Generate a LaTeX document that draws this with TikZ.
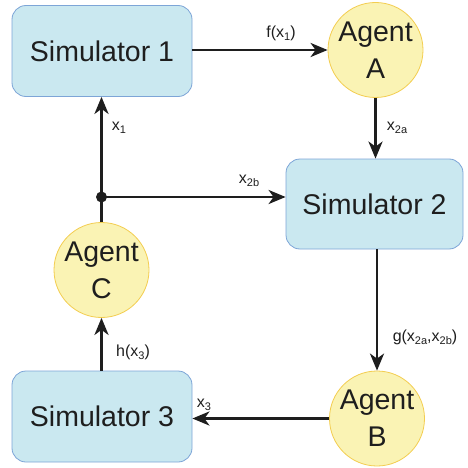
\documentclass[tikz,border=0pt]{standalone}
\usepackage{fontspec}
\setmainfont{Liberation Sans}
\usetikzlibrary{arrows.meta}
\definecolor{boxfill}{RGB}{202,232,240}
\definecolor{boxline}{RGB}{125,165,215}
\definecolor{agfill}{RGB}{250,243,180}
\definecolor{agline}{RGB}{243,205,80}
\definecolor{ink}{RGB}{30,30,30}
\newcommand\mysub[1]{\raisebox{-0.35ex}{\fontsize{11}{11}\selectfont #1}}
\tikzset{
  simbox/.style={draw=boxline, fill=boxfill, line width=0.8pt, rounded corners=14pt,
    minimum width=180pt, minimum height=91pt, inner sep=0pt,
    font=\fontsize{28.5}{34}\selectfont, text=ink},
  agent/.style={draw=agline, fill=agfill, line width=0.8pt, circle, minimum size=95pt, inner sep=0pt,
    align=center, font=\fontsize{28.5}{37}\selectfont, text=ink},
  flow/.style={draw=ink, line width=2.8pt, -{Stealth[length=17pt,width=14pt,inset=5pt]}},
  lbl/.style={font=\fontsize{16}{18}\selectfont, text=ink, inner sep=0pt},
}
\begin{document}
\begin{tikzpicture}[x=1pt,y=-1pt]
\useasboundingbox (0,0) rectangle (468,468);
\node[simbox] (sim1) at (102,51) {Simulator 1};
\node[simbox, minimum width=177pt, minimum height=90pt] (sim2) at (374.5,204) {Simulator 2};
\node[simbox] (sim3) at (102,416.5) {Simulator 3};
\node[agent] (agA) at (375.5,50) {Agent\\A};
\node[agent] (agC) at (101.5,270) {Agent\\C};
\node[agent] (agB) at (377,418.5) {Agent\\B};
\coordinate (dot) at (101.5,197);
\fill[ink] (dot) circle (5.5pt);

\draw[flow] (sim1.east |- agA.west) -- (agA.west);
\draw[flow] (agA.south) -- (agA.south |- sim2.north);
\draw[flow] (sim2.south -| agB.north) -- (agB.north);
\draw[flow] (agB.west) -- (sim3.east |- agB.west);
\draw[flow] (sim3.north -| agC.south) -- (agC.south);
\draw[flow] (agC.north) -- (agC.north |- sim1.south);
\draw[flow] (dot) -- (sim2.west |- dot);

\node[lbl] (lf) at (281,33) {f(x\mysub{1})};
\node[lbl] (l2a) at (397,128) {x\mysub{2a}};
\node[lbl] (l2b) at (249,181) {x\mysub{2b}};
\node[lbl] (l1) at (119,128) {x\mysub{1}};
\node[lbl] (lg) at (425,337) {g(x\mysub{2a},x\mysub{2b})};
\node[lbl] (l3) at (204,405) {x\mysub{3}};
\node[lbl] (lh) at (133,352) {h(x\mysub{3})};
\end{tikzpicture}
\end{document}
